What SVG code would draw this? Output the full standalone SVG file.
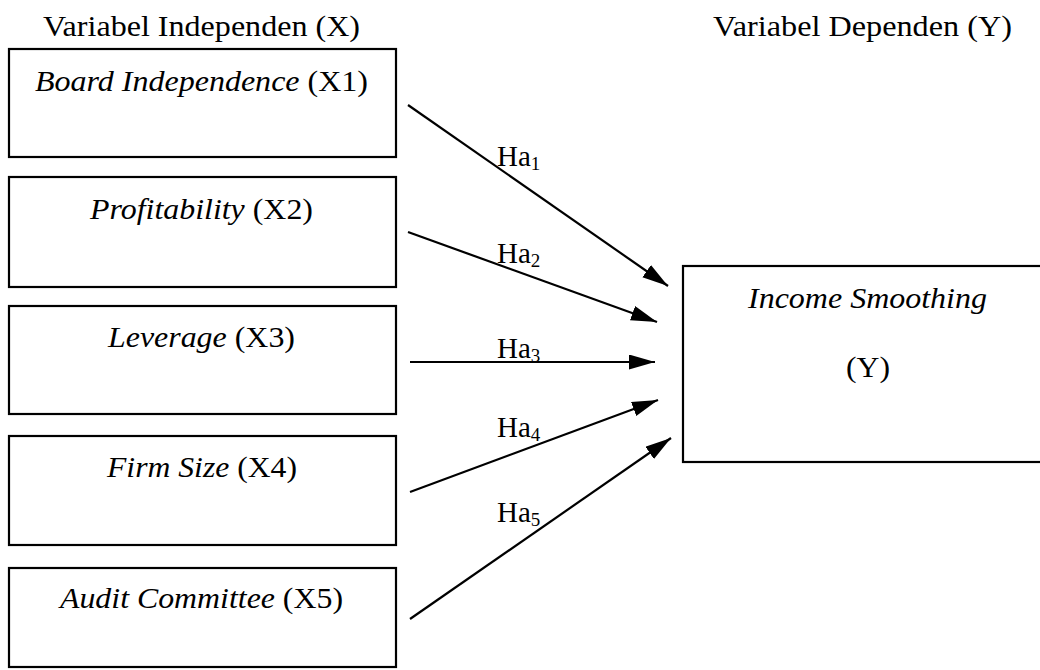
<svg xmlns="http://www.w3.org/2000/svg" width="1040" height="670" viewBox="0 0 1040 670">
<style>
text{font-family:"Times New Roman","Liberation Serif",Tinos,Times,serif;font-size:29px;fill:#000}
.it{font-style:italic}
.sub{font-size:19px}
.box{fill:#fff;stroke:#000;stroke-width:2.2}
.conn{stroke:#000;stroke-width:2.2;fill:none}
</style>
<defs>
<marker id="ah" markerUnits="userSpaceOnUse" markerWidth="27" markerHeight="16" refX="26" refY="7.5" orient="auto">
<path d="M0,0 L26,7.5 L0,15 z" fill="#000"/>
</marker>
</defs>
<rect width="1040" height="670" fill="#fff"/>
<g id="headers">
<text x="43" y="36" textLength="317" lengthAdjust="spacingAndGlyphs">Variabel Independen (X)</text>
<text x="713" y="36" textLength="299" lengthAdjust="spacingAndGlyphs">Variabel Dependen (Y)</text>
</g>
<g id="x1">
<rect class="box" x="9" y="49" width="387" height="108"/>
<text x="35" y="91" textLength="333" lengthAdjust="spacingAndGlyphs"><tspan class="it">Board Independence</tspan> (X1)</text>
</g>
<g id="x2">
<rect class="box" x="9" y="177" width="387" height="110"/>
<text x="90" y="219" textLength="223" lengthAdjust="spacingAndGlyphs"><tspan class="it">Profitability</tspan> (X2)</text>
</g>
<g id="x3">
<rect class="box" x="9" y="306" width="387" height="108"/>
<text x="108" y="347" textLength="187" lengthAdjust="spacingAndGlyphs"><tspan class="it">Leverage</tspan> (X3)</text>
</g>
<g id="x4">
<rect class="box" x="9" y="436" width="387" height="109"/>
<text x="107" y="477" textLength="190" lengthAdjust="spacingAndGlyphs"><tspan class="it">Firm Size</tspan> (X4)</text>
</g>
<g id="x5">
<rect class="box" x="9" y="568" width="387" height="99"/>
<text x="60" y="608" textLength="283" lengthAdjust="spacingAndGlyphs"><tspan class="it">Audit Committee</tspan> (X5)</text>
</g>
<g id="y">
<rect class="box" x="683" y="266" width="372" height="196"/>
<text x="748" y="308" class="it" textLength="239" lengthAdjust="spacingAndGlyphs">Income Smoothing</text>
<text x="846" y="377" textLength="44" lengthAdjust="spacingAndGlyphs">(Y)</text>
</g>
<g id="connectors">
<line class="conn" x1="408" y1="105" x2="668" y2="286" marker-end="url(#ah)"/>
<line class="conn" x1="408" y1="232" x2="657" y2="322" marker-end="url(#ah)"/>
<line class="conn" x1="410" y1="362" x2="655" y2="362" marker-end="url(#ah)"/>
<line class="conn" x1="410" y1="492" x2="658" y2="400" marker-end="url(#ah)"/>
<line class="conn" x1="410" y1="619" x2="671" y2="438" marker-end="url(#ah)"/>
</g>
<g id="labels">
<text x="497" y="166">Ha<tspan class="sub" dy="4">1</tspan></text>
<text x="497" y="263">Ha<tspan class="sub" dy="4">2</tspan></text>
<text x="497" y="358">Ha<tspan class="sub" dy="4">3</tspan></text>
<text x="497" y="437">Ha<tspan class="sub" dy="4">4</tspan></text>
<text x="497" y="522">Ha<tspan class="sub" dy="4">5</tspan></text>
</g>
</svg>
